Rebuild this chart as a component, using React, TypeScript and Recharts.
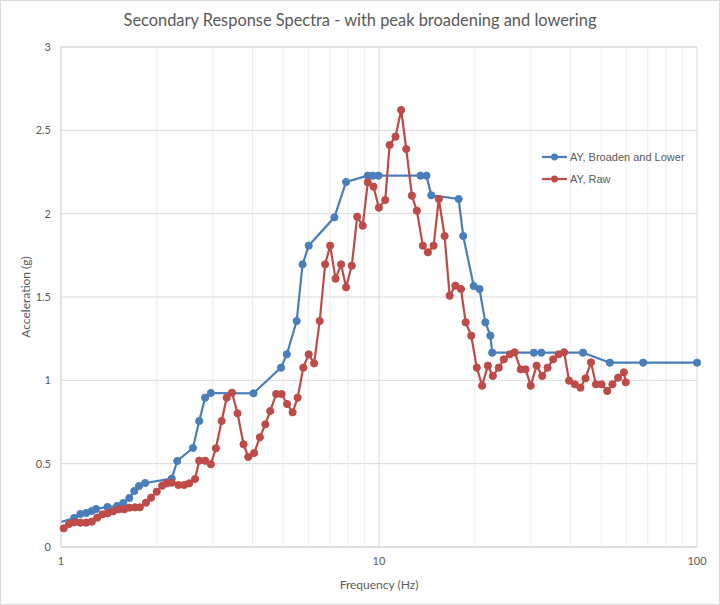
import {
  LineChart,
  Line,
  XAxis,
  YAxis,
  CartesianGrid,
  ReferenceLine,
  ReferenceArea,
  Legend,
  Label,
} from 'recharts';

// Frequency (Hz) / acceleration (g)
const broadenFreq = [
  1, 1.1, 1.15, 1.2, 1.25, 1.29, 1.4, 1.5, 1.57, 1.64,
  1.7, 1.76, 1.84, 2.23, 2.32, 2.6, 2.72, 2.84, 2.96, 4.03,
  4.92, 5.13, 5.51, 5.75, 6.01, 7.24, 7.88, 9.22, 9.56, 9.96,
  13.5, 14.1, 14.6, 17.8, 18.4, 19.85, 20.7, 21.6, 22.4, 22.7,
  30.7, 32.4, 43.8, 53.2, 67.7, 100,
];
const broadenAcc = [
  0.15, 0.174, 0.198, 0.204, 0.216, 0.228, 0.24, 0.246, 0.264, 0.294,
  0.336, 0.366, 0.384, 0.41, 0.516, 0.594, 0.756, 0.896, 0.924, 0.922,
  1.076, 1.156, 1.356, 1.696, 1.808, 1.978, 2.19, 2.228, 2.228, 2.228,
  2.228, 2.228, 2.11, 2.088, 1.866, 1.566, 1.548, 1.348, 1.268, 1.166,
  1.166, 1.166, 1.166, 1.106, 1.106, 1.106,
];

const rawFreq = [
  1.02, 1.06, 1.1, 1.15, 1.2, 1.25, 1.3, 1.35, 1.4, 1.46,
  1.52, 1.58, 1.64, 1.71, 1.77, 1.85, 1.92, 2.0, 2.08, 2.15,
  2.23, 2.34, 2.44, 2.53, 2.64, 2.72, 2.84, 2.96, 3.07, 3.2,
  3.32, 3.45, 3.59, 3.75, 3.88, 4.05, 4.22, 4.39, 4.55, 4.75,
  4.94, 5.14, 5.35, 5.55, 5.78, 6.01, 6.25, 6.51, 6.77, 7.02,
  7.3, 7.6, 7.88, 8.21, 8.54, 8.89, 9.22, 9.61, 9.99, 10.46,
  10.8, 11.27, 11.74, 12.18, 12.69, 13.15, 13.74, 14.25, 14.85, 15.42,
  16.08, 16.68, 17.38, 18.1, 18.73, 19.5, 20.3, 21.1, 22.0, 22.8,
  23.8, 24.7, 25.8, 26.7, 27.9, 28.9, 30.0, 31.3, 32.6, 33.9,
  35.3, 36.7, 38.2, 39.6, 41.3, 43.0, 44.6, 46.4, 48.1, 50.1,
  52.2, 54.2, 56.5, 58.9, 59.7,
];
const rawAcc = [
  0.112, 0.138, 0.148, 0.146, 0.146, 0.152, 0.176, 0.196, 0.202, 0.214,
  0.226, 0.226, 0.236, 0.238, 0.238, 0.266, 0.296, 0.332, 0.368, 0.382,
  0.386, 0.372, 0.372, 0.382, 0.408, 0.518, 0.518, 0.496, 0.592, 0.756,
  0.896, 0.926, 0.802, 0.616, 0.54, 0.564, 0.658, 0.736, 0.816, 0.918,
  0.918, 0.858, 0.808, 0.896, 1.076, 1.156, 1.102, 1.356, 1.696, 1.808,
  1.61, 1.696, 1.558, 1.688, 1.982, 1.928, 2.188, 2.162, 2.036, 2.082,
  2.412, 2.462, 2.622, 2.388, 2.108, 2.018, 1.808, 1.768, 1.808, 2.088,
  1.866, 1.508, 1.568, 1.548, 1.348, 1.268, 1.076, 0.968, 1.088, 1.026,
  1.076, 1.126, 1.156, 1.168, 1.066, 1.066, 0.968, 1.088, 1.026, 1.076,
  1.126, 1.156, 1.168, 0.998, 0.976, 0.956, 1.012, 1.108, 0.976, 0.976,
  0.936, 0.976, 1.016, 1.048, 0.988,
];

const xTicks = [1, 10, 100];
const yTicks = [0, 0.5, 1, 1.5, 2, 2.5, 3];
const minorX = [2, 3, 4, 5, 6, 7, 8, 9, 20, 30, 40, 50, 60, 70, 80, 90];

const broadenData = broadenFreq.map((f, i) => ({ f, acc: broadenAcc[i] }));
const rawData = rawFreq.map((f, i) => ({ f, acc: rawAcc[i] }));

const BLUE = '#4a7ebb';
const RED = '#be4b48';
const TEXT = '#595959';
const FONT = 'Lato, "Open Sans", sans-serif';

// first blue point sits on the axis with no visible marker
const blueDot = (props: any) => {
  const { cx, cy, index } = props;
  if (index === 0) return <g key={`b${index}`} />;
  return <circle key={`b${index}`} cx={cx} cy={cy} r={3.6} fill={BLUE} stroke={BLUE} />;
};

const renderLegend = () => (
  <svg width={150} height={45}>
    {[
      { name: 'AY, Broaden and Lower', color: BLUE },
      { name: 'AY, Raw', color: RED },
    ].map((s, i) => (
      <g key={s.name} transform={`translate(0, ${9 + i * 22})`}>
        <line x1={2} x2={27} y1={0} y2={0} stroke={s.color} strokeWidth={2.2} />
        <circle cx={14.5} cy={0} r={3.4} fill={s.color} />
        <text x={30} y={0} dy="0.35em" fontSize={11} fill={TEXT} fontFamily='"Liberation Sans", Arial, sans-serif'>
          {s.name}
        </text>
      </g>
    ))}
  </svg>
);

const YTitle = (props: any) => {
  const vb = props.viewBox;
  const cx = 25;
  const cy = vb.y + vb.height / 2;
  return (
    <text
      x={cx}
      y={cy}
      transform={`rotate(-90 ${cx} ${cy})`}
      textAnchor="middle"
      dominantBaseline="central"
      fontSize={12}
      fill={TEXT}
      fontFamily={FONT}
    >
      Acceleration (g)
    </text>
  );
};

export default function App() {
  return (
    <div style={{ position: 'absolute', left: 0, top: 0, width: 720, height: 605, background: '#fff' }}>
      <div
        style={{
          position: 'absolute',
          left: 0,
          top: 0,
          width: 720,
          height: 605,
          boxSizing: 'border-box',
          border: '1px solid #d9d9d9',
          pointerEvents: 'none',
        }}
      />
      <div
        style={{
          position: 'absolute',
          top: 10,
          left: 0,
          width: 720,
          textAlign: 'center',
          fontFamily: FONT,
          fontSize: 16.4,
          color: TEXT,
        }}
      >
        Secondary Response Spectra - with peak broadening and lowering
      </div>
      <LineChart width={720} height={605} margin={{ top: 47, right: 23, bottom: 0, left: 0 }}>
        <CartesianGrid vertical={false} stroke="#d9d9d9" />
        {minorX.map((v) => (
          <ReferenceLine key={v} x={v} stroke="#ededed" strokeWidth={1} />
        ))}
        <ReferenceLine x={10} stroke="#d9d9d9" strokeWidth={1} />
        <ReferenceArea x1={1} x2={100} y1={0} y2={3} fill="none" stroke="#d9d9d9" strokeWidth={1} />
        <XAxis
          dataKey="f"
          type="number"
          scale="log"
          domain={[1, 100]}
          ticks={xTicks}
          allowDuplicatedCategory={false}
          height={58}
          tickLine={false}
          tickSize={0}
          tickMargin={10}
          axisLine={{ stroke: '#d9d9d9' }}
          tick={{ fontSize: 11, fill: TEXT, fontFamily: FONT }}
        >
          <Label
            value="Frequency (Hz)"
            position="insideBottom"
            offset={16}
            style={{ fontSize: 12, fill: TEXT, fontFamily: FONT }}
          />
        </XAxis>
        <YAxis
          type="number"
          domain={[0, 3]}
          ticks={yTicks}
          width={61}
          tickLine={false}
          tickSize={0}
          tickMargin={10}
          axisLine={{ stroke: '#d9d9d9' }}
          tick={{ fontSize: 11, fill: TEXT, fontFamily: FONT }}
        >
          <Label content={YTitle} />
        </YAxis>
        <Legend
          layout="vertical"
          verticalAlign="middle"
          align="center"
          wrapperStyle={{ left: 540, top: 148, width: 150, height: 45 }}
          content={renderLegend}
        />
        <Line
          data={broadenData}
          dataKey="acc"
          name="AY, Broaden and Lower"
          type="linear"
          stroke={BLUE}
          strokeWidth={2.2}
          dot={blueDot}
          activeDot={false}
          isAnimationActive={false}
        />
        <Line
          data={rawData}
          dataKey="acc"
          name="AY, Raw"
          type="linear"
          stroke={RED}
          strokeWidth={2.2}
          dot={{ r: 3.6, fill: RED, stroke: RED, strokeWidth: 1 }}
          activeDot={false}
          isAnimationActive={false}
        />
      </LineChart>
    </div>
  );
}
